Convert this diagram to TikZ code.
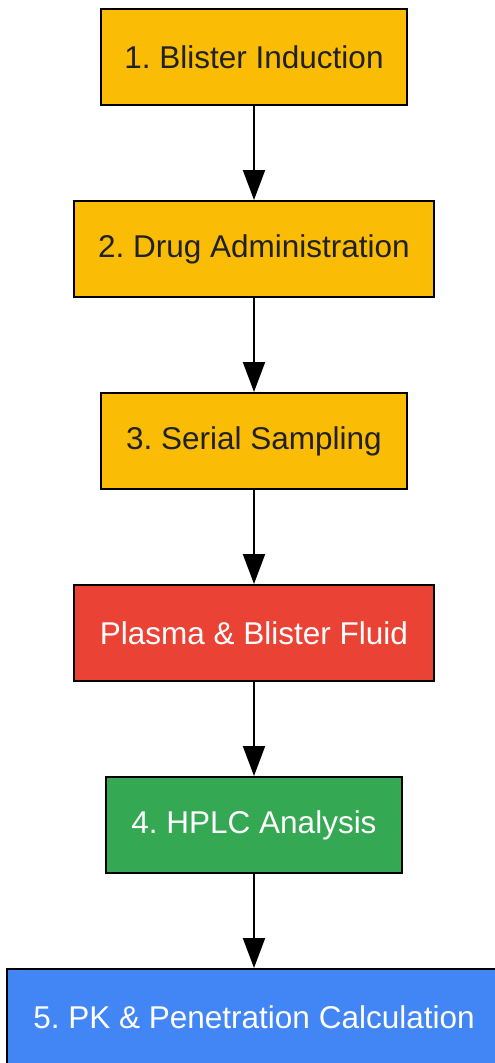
\documentclass[tikz,border=0pt]{standalone}
\usepackage{fontspec}
\setmainfont{Liberation Sans}
\usetikzlibrary{arrows.meta}
\frenchspacing
\definecolor{gyellow}{HTML}{FBBC05}
\definecolor{gred}{HTML}{EA4335}
\definecolor{ggreen}{HTML}{34A853}
\definecolor{gblue}{HTML}{4285F4}
\definecolor{darktext}{HTML}{202124}
\tikzset{
  box/.style={draw=black, line width=2pt, minimum height=96pt, inner sep=0pt,
    font=\fontsize{31.5}{36}\selectfont\frenchspacing},
  ybox/.style={box, fill=gyellow, text=darktext},
  wbox/.style={box, text=white},
  conn/.style={line width=2pt, -{Triangle[length=30pt,width=22pt]}}
}
\begin{document}
\begin{tikzpicture}[x=1pt,y=-1pt]
\useasboundingbox (0,0) rectangle (495,1063);
\clip (0,0) rectangle (495,1063);
\node[ybox, minimum width=306pt] (n1) at (254,57) {1. Blister Induction};
\node[ybox, minimum width=360pt] (n2) at (254,249) {2. Drug Administration};
\node[ybox, minimum width=306pt] (n3) at (254,441) {3. Serial Sampling};
\node[wbox, fill=gred, minimum width=360pt] (n4) at (254,633) {Plasma \& Blister Fluid};
\node[wbox, fill=ggreen, minimum width=296pt] (n5) at (254,825) {4. HPLC Analysis};
\node[wbox, fill=gblue, minimum width=494pt] (n6) at (254,1017) {5. PK \& Penetration Calculation};
\draw[conn] (n1) -- (n2);
\draw[conn] (n2) -- (n3);
\draw[conn] (n3) -- (n4);
\draw[conn] (n4) -- (n5);
\draw[conn] (n5) -- (n6);
\end{tikzpicture}
\end{document}
